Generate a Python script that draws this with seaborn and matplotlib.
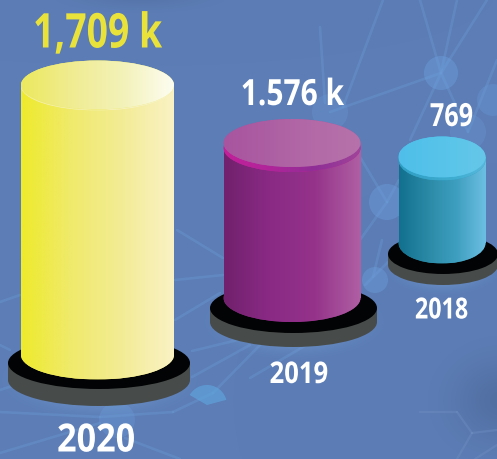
import numpy as np
import matplotlib
matplotlib.use("Agg")
import matplotlib.pyplot as plt
import seaborn as sns
from matplotlib.colors import LinearSegmentedColormap
from matplotlib.patches import Ellipse, Rectangle, Circle, Wedge
from matplotlib.patheffects import AbstractPathEffect
from matplotlib.transforms import Affine2D

# chart data
years = ["2020", "2019", "2018"]
value_labels = ["1,709 k", "1.576 k", "769"]
# drawn cylinder heights, in pixels (not to scale with the values)
cylinder_heights = [270, 155, 86]

# layout, in pixels with y measured from the top
W, H = 497, 459
centers = [97.5, 292, 442]
half_widths = [76.5, 68.5, 43.5]
baselines = [355, 298, 243]
top_ry = [24.5, 24, 20.5]
base_center = [99, 293.5, 443]
base_rx = [91, 83.5, 55]
base_y = [363, 308, 254]
base_ry = [26, 25, 20]
base_thick = [17, 14, 11]
lip = [1, 5, 3]
value_x = [97.5, 292.5, 451.5]
value_y = [35, 96, 117.5]
value_size = [34.5, 26, 23]
value_squeeze = [0.78, 0.83, 0.79]
value_colors = ["#e9e23b", "white", "white"]
year_x = [96, 299, 441.5]
year_y = [441, 375, 311]
year_size = [28, 21.5, 21]
year_squeeze = [0.88, 0.86, 0.8]

body_colors = [["#eeea2c", "#f0ea6c", "#f3ec96", "#faf2c4"],
               ["#71216d", "#8a2a85", "#95338a", "#b060a4"],
               ["#12708f", "#2a8aa6", "#3f9fc0", "#6cbfe2"]]
top_colors = [["#ece95e", "#f0ec92", "#f3f2b8", "#fdfdf2"],
              ["#a8559f", "#ad5fa3", "#b36aa7", "#b672aa"],
              ["#4fbfe9", "#54c2ea", "#5cc5e9", "#66c7e8"]]
lip_colors = [["#f4f0a0", "#f4f0a0", "#f8f2c0", "#fbf4d0"],
              ["#c2209a", "#b0259a", "#8e2f96", "#a0459a"],
              ["#2f9fc4", "#38a6ca", "#3faed0", "#5ab8dc"]]

# faint network in the background, in pixels
net_lines = [[(441, 73), (420, 0)], [(441, 73), (457, 0)], [(441, 73), (487, 0)],
             [(383, 0), (343, 107)], [(441, 73), (330, 112)], [(441, 73), (468, 132)],
             [(441, 73), (410, 140)], [(320, 27), (325, 103)], [(497, 60), (468, 132)],
             [(360, 157), (387, 202)], [(387, 202), (399, 180)], [(387, 202), (360, 240)],
             [(177, 230), (223, 258)], [(175, 280), (223, 275)], [(175, 320), (220, 293)],
             [(192, 351), (250, 337)], [(192, 377), (250, 345)], [(0, 412), (100, 417)],
             [(100, 417), (173, 412)], [(173, 412), (213, 393)], [(213, 393), (260, 345)],
             [(0, 453), (100, 423)], [(0, 345), (10, 350)], [(0, 390), (15, 385)],
             [(0, 302), (20, 295)], [(250, 378), (320, 337)], [(382, 240), (373, 277)],
             [(388, 262), (365, 285)], [(180, 459), (125, 438)]]
net_nodes = [(441, 73, 17, 0.55), (330, 112, 18, 0.3), (387, 202, 18, 0.5),
             (468, 132, 18, 0.3), (493, 100, 16, 0.35), (117, 420, 18, 0.35), (375, 280, 13, 0.5)]
hex_lines = [[(457, 412), (472, 433)], [(472, 433), (457, 459)], [(472, 433), (497, 430)],
             [(420, 412), (457, 412)], [(497, 445), (475, 459)]]


class Squeeze(AbstractPathEffect):
    # narrows a text around its centre, no condensed family is installed
    def __init__(self, factor, center):
        super().__init__()
        self.factor = factor
        self.center = center

    def draw_path(self, renderer, gc, tpath, affine, rgbFace=None):
        squeeze = Affine2D().translate(-self.center, 0).scale(self.factor, 1).translate(self.center, 0)
        renderer.draw_path(gc, tpath, affine + squeeze, rgbFace)


def glow(ax, x, y, rx, ry, color, alpha, z=1.5):
    xx, yy = np.meshgrid(np.linspace(-1, 1, 100), np.linspace(-1, 1, 100))
    img = np.zeros((100, 100, 4))
    img[..., :3] = matplotlib.colors.to_rgb(color)
    img[..., 3] = alpha*np.clip(1 - (xx**2 + yy**2), 0, 1)**2
    ax.imshow(img, extent=(x - rx, x + rx, y - ry, y + ry), aspect="auto", zorder=z)


def gradient(ax, colors, x0, x1, y0, y1, clip, z):
    cmap = LinearSegmentedColormap.from_list("g", colors)
    im = ax.imshow(np.linspace(0, 1, 256)[None, :], cmap=cmap, extent=(x0, x1, y0, y1),
                   aspect="auto", zorder=z)
    im.set_clip_path(clip)


sns.set_style("white")
plt.rcParams["font.family"] = ["Open Sans", "DejaVu Sans"]

fig = plt.figure(figsize=(W/100, H/100), dpi=100)
ax = fig.add_axes([0, 0, 1, 1])

# background
yy, xx = np.mgrid[0:H, 0:W]
shade = (0.11*np.exp(-(((xx - 500)/45.0)**2 + ((yy - 400)/40.0)**2))
         + 0.07*np.exp(-(((xx - 140)/60.0)**2 + ((yy + 5)/12.0)**2)))
back = np.array(matplotlib.colors.to_rgb("#5c7db6"))[None, None, :]*(1 - shade[..., None])
ax.imshow(back, extent=(0, W, 0, H), aspect="auto", zorder=0)

for seg in net_lines:
    ax.plot([seg[0][0], seg[1][0]], [H - seg[0][1], H - seg[1][1]], color="#6b9ad2", lw=1.9,
            alpha=0.4, zorder=1, solid_capstyle="round")
for seg in hex_lines:
    ax.plot([seg[0][0], seg[1][0]], [H - seg[0][1], H - seg[1][1]], color="#6e8dc0", lw=1.6,
            alpha=0.45, zorder=1)
for nx, ny, nr, na in net_nodes:
    ax.add_patch(Circle((nx, H - ny), nr, color="#6a9ad6", alpha=na, lw=0, zorder=1))
ax.add_patch(Wedge((207, H - 405), 20, 15, 150, color="#5fa3dc", alpha=0.7, lw=0, zorder=1))

for i in range(3):
    # base plate
    bx, by, brx, bry, bt = base_center[i], H - base_y[i], base_rx[i], base_ry[i], base_thick[i]
    glow(ax, bx, by - bt, brx*1.22, bry*1.7, "#7ba6dc", 0.7)
    ax.add_patch(Ellipse((bx, by - bt), 2*brx, 2*bry, color="#474c4a", lw=0, zorder=2))
    ax.add_patch(Rectangle((bx - brx, by - bt), 2*brx, bt, color="#474c4a", lw=0, zorder=2))
    ax.add_patch(Ellipse((bx, by), 2*brx, 2*bry, color="#020304", lw=0, zorder=2.1))

    # cylinder body comes from the bar
    sns.barplot(x=[centers[i]], y=[cylinder_heights[i]], native_scale=True, width=2*half_widths[i],
                bottom=H - baselines[i], color=body_colors[i][1], saturation=1, errorbar=None,
                linewidth=0, edgecolor="none", zorder=3, ax=ax)
    bar = ax.patches[-1]
    x0, x1 = bar.get_x(), bar.get_x() + bar.get_width()
    y0, y1 = bar.get_y(), bar.get_y() + bar.get_height()
    cx, ry = (x0 + x1)/2, top_ry[i]

    gradient(ax, body_colors[i], x0, x1, y0, y1, bar, 3.1)
    foot = Ellipse((cx, y0), x1 - x0, 2*ry, color=body_colors[i][1], lw=0, zorder=3)
    ax.add_patch(foot)
    gradient(ax, body_colors[i], x0, x1, y0 - ry, y0 + ry, foot, 3.1)

    # rim and top face
    rim = Ellipse((cx, y1 - lip[i]), x1 - x0, 2*ry, color=lip_colors[i][0], lw=0, zorder=3.2)
    ax.add_patch(rim)
    gradient(ax, lip_colors[i], x0, x1, y1 - lip[i] - ry, y1 - lip[i] + ry, rim, 3.3)
    top = Ellipse((cx, y1), x1 - x0, 2*ry, color=top_colors[i][0], lw=0, zorder=3.4)
    ax.add_patch(top)
    gradient(ax, top_colors[i], x0, x1, y1 - ry, y1 + ry, top, 3.5)

    ax.text(value_x[i], H - value_y[i], value_labels[i], color=value_colors[i], fontsize=value_size[i],
            fontweight="bold", ha="center", va="center", zorder=6,
            path_effects=[Squeeze(value_squeeze[i], value_x[i])])
    ax.text(year_x[i], H - year_y[i], years[i], color="white", fontsize=year_size[i],
            fontweight="bold", ha="center", va="center", zorder=6,
            path_effects=[Squeeze(year_squeeze[i], year_x[i])])

ax.set_xlim(0, W)
ax.set_ylim(0, H)
ax.set_axis_off()
fig.savefig("out.png", dpi=100)
